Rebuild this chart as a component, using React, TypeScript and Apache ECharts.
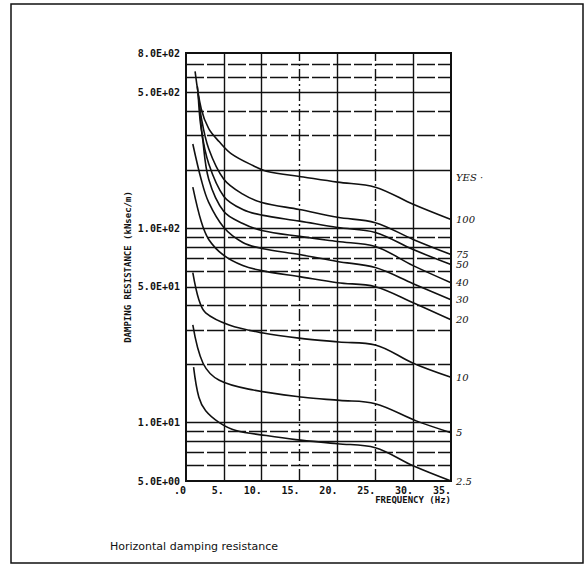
import React, { useEffect, useRef } from "react";
import * as echarts from "echarts";

// Frequency (Hz) vs damping resistance, one curve per label on the right
const curve100 = [[1.2, 643], [2, 414], [3, 326], [4.4, 279], [6, 242], [8.9, 210], [10.6, 197], [15.5, 184], [20, 173], [25, 163], [30, 133], [35, 111]];
const curve75 = [[1.5, 538], [2, 376], [3, 257], [5, 179], [7.5, 150], [10, 136], [15, 125], [20, 114], [25, 107], [30, 87.7], [35, 73.3]];
const curve50 = [[1.6, 495], [2, 326], [3, 215], [5, 146], [7.5, 125], [10, 117], [15, 109], [20, 101], [25, 95.3], [30, 77.8], [35, 65.1]];
const curve40 = [[1.8, 414], [2.2, 289], [3, 179], [5, 122], [7.5, 106], [10, 97.6], [15, 90.9], [20, 85.6], [25, 80.7], [30, 64.3], [35, 52.5]];
const curve30 = [[0.9, 272], [2, 179], [3, 136], [5, 101], [7.5, 84.6], [10, 78.8], [15, 73.3], [20, 67.5], [25, 62.8], [30, 51.9], [35, 42.9]];
const curve20 = [[0.9, 163], [2, 108.7], [3, 87.7], [5, 72.5], [7.5, 64.3], [10, 60.6], [15, 56.4], [20, 52.5], [25, 50.1], [30, 41.4], [35, 33.8]];
const curve10 = [[0.9, 59.2], [1.7, 42.9], [2.6, 36.7], [5.7, 31.8], [10.2, 28.9], [14.9, 27.2], [20.2, 26.0], [25, 25.1], [30, 20.2], [35, 17.1]];
const curve5 = [[0.9, 31.8], [2.25, 20.2], [4.4, 16.5], [8.9, 14.7], [15.5, 13.5], [20.3, 13.0], [25, 12.5], [30.4, 10.2], [35, 8.87]];
const curve2p5 = [[1, 19.3], [1.7, 13.5], [2.6, 11.5], [4.4, 10.0], [6.6, 9.1], [10.6, 8.57], [14.5, 8.17], [20, 7.78], [25, 7.42], [30, 5.99], [35, 5.0]];

const curves = [curve100, curve75, curve50, curve40, curve30, curve20, curve10, curve5, curve2p5];
const curveNames = ["100", "75", "50", "40", "30", "20", "10", "5", "2.5"];

const yTickValues = [800, 500, 100, 50, 10, 5];
const yTickLabels = ["8.0E+02", "5.0E+02", "1.0E+02", "5.0E+01", "1.0E+01", "5.0E+00"];
const yGridSolid = [8, 10, 50, 80, 100, 200, 500];
const yGridDashed = [6, 7, 9, 20, 30, 40, 60, 70, 90, 300, 400, 600, 700];
const xGridSolid = [5, 10, 20, 30];
const xGridDashed = [15, 25];

const MONO = "DejaVu Sans Mono";

export default function App() {
  const ref = useRef<HTMLDivElement>(null);
  useEffect(() => {
    if (!ref.current) return;
    const chart = echarts.init(ref.current, null, { renderer: "svg" });

    const solid = { color: "#111", width: 1.4, type: "solid" as const };
    const dashed = { color: "#111", width: 1.4, type: [18, 3] as any };

    const markData: any[] = [];
    yGridSolid.forEach((v) => markData.push({ yAxis: v, lineStyle: solid }));
    yGridDashed.forEach((v) => markData.push({ yAxis: v, lineStyle: dashed }));
    xGridSolid.forEach((v) => markData.push({ xAxis: v, lineStyle: solid }));
    xGridDashed.forEach((v) => markData.push({ xAxis: v, lineStyle: { ...dashed, type: [12, 3, 2, 3] as any } }));
    yTickValues.forEach((v, i) =>
      markData.push({
        yAxis: v,
        lineStyle: { ...solid, width: 0 },
        label: {
          show: true,
          position: "start",
          distance: 6,
          formatter: yTickLabels[i],
          color: "#111",
          fontFamily: MONO,
          fontWeight: "bold",
          fontSize: 10,
        },
      })
    );

    const series: any[] = curves.map((c, i) => ({
      type: "line",
      name: curveNames[i],
      data: c,
      symbol: "none",
      smooth: 0.35,
      lineStyle: { color: "#111", width: 1.6 },
      endLabel: {
        show: true,
        formatter: curveNames[i],
        color: "#111",
        fontFamily: "DejaVu Serif",
        fontStyle: "italic",
        fontSize: 10,
        distance: 5,
      },
      silent: true,
    }));
    series[0].markLine = {
      silent: true,
      symbol: ["none", "none"],
      label: { show: false },
      data: markData,
    };

    chart.setOption({
      animation: false,
      backgroundColor: "#fff",
      grid: {
        left: 186,
        right: 134,
        top: 53,
        bottom: 99,
        show: true,
        borderColor: "#111",
        borderWidth: 2,
      },
      xAxis: {
        type: "value",
        min: 0,
        max: 35,
        interval: 5,
        axisLine: { show: false },
        axisTick: { show: false },
        splitLine: { show: false },
        axisLabel: {
          color: "#111",
          fontFamily: MONO,
          fontWeight: "bold",
          fontSize: 10,
          margin: 4,
          align: "right",
          formatter: (v: number) => (v === 0 ? ".0" : `${v}.`),
        },
      },
      yAxis: {
        type: "log",
        logBase: 10,
        min: 5,
        max: 800,
        axisLine: { show: false },
        axisTick: { show: false },
        splitLine: { show: false },
        axisLabel: { show: false },
        name: "DAMPING RESISTANCE (kNsec/m)",
        nameLocation: "middle",
        nameGap: 54,
        nameRotate: 90,
        nameTextStyle: {
          color: "#111",
          fontFamily: MONO,
          fontWeight: "bold",
          fontSize: 9,
        },
      },
      graphic: [
        {
          type: "rect",
          shape: { x: 11, y: 4, width: 572, height: 559 },
          style: { fill: "none", stroke: "#111", lineWidth: 1.5 },
          silent: true,
        },
        {
          type: "text",
          x: 451,
          y: 500,
          style: {
            text: "FREQUENCY (Hz)",
            fill: "#111",
            font: `bold 9px '${MONO}'`,
            align: "right",
            verticalAlign: "middle",
          },
        },
        {
          type: "text",
          x: 456,
          y: 177,
          style: {
            text: "YES ·",
            fill: "#111",
            font: "italic 10px 'DejaVu Serif'",
            align: "left",
            verticalAlign: "middle",
          },
        },
        {
          type: "text",
          x: 110,
          y: 546,
          style: {
            text: "Horizontal damping resistance",
            fill: "#111",
            font: "11px 'DejaVu Sans'",
            align: "left",
            verticalAlign: "middle",
          },
        },
      ],
      series,
    });

    return () => chart.dispose();
  }, []);

  return (
    <div
      ref={ref}
      style={{ position: "fixed", left: 0, top: 0, width: 585, height: 580, background: "#fff" }}
    />
  );
}
